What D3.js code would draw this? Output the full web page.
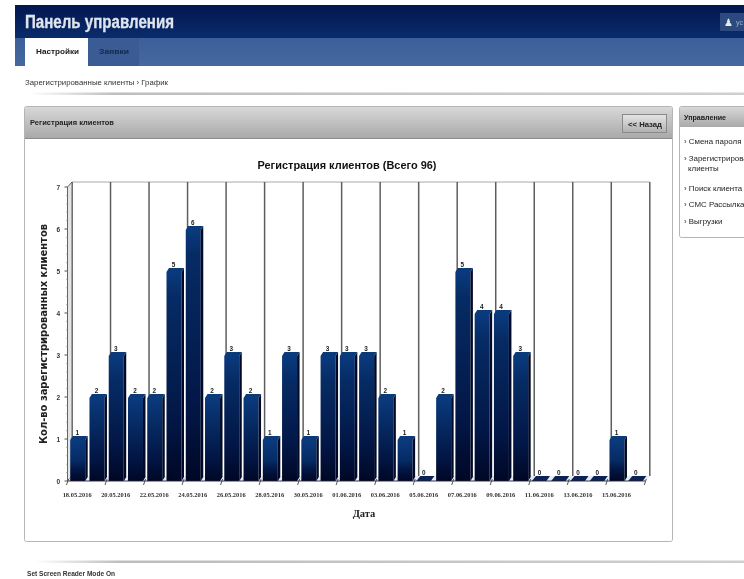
<!DOCTYPE html>
<html><head><meta charset="utf-8">
<script src="https://cdn.jsdelivr.net/npm/d3@7"></script>
<style>
html,body{margin:0;padding:0;background:#fff;overflow:hidden}
svg{display:block;filter:blur(.55px)}
</style></head><body><div id="c"></div>
<script>
const dates=["18.05.2016","19.05.2016","20.05.2016","21.05.2016","22.05.2016","23.05.2016","24.05.2016","25.05.2016","26.05.2016","27.05.2016","28.05.2016","29.05.2016","30.05.2016","31.05.2016","01.06.2016","02.06.2016","03.06.2016","04.06.2016","05.06.2016","06.06.2016","07.06.2016","08.06.2016","09.06.2016","10.06.2016","11.06.2016","12.06.2016","13.06.2016","14.06.2016","15.06.2016","16.06.2016"];
const counts=[1,2,3,2,2,5,6,2,3,2,1,3,1,3,3,3,2,1,0,2,5,4,4,3,0,0,0,0,1,0];
const yTicks=[0,1,2,3,4,5,6,7];
const chartTitle="Регистрация клиентов (Всего 96)";
const yTitle="Кол-во зарегистрированных клиентов";
const xTitle="Дата";
const menuItems=[["› Смена пароля"],["› Зарегистрированные","клиенты"],["› Поиск клиента"],["› СМС Рассылка"],["› Выгрузки"]];

const W=744,H=579;
const svg=d3.select("#c").append("svg").attr("width",W).attr("height",H).attr("viewBox",[0,0,W,H]);
const defs=svg.append("defs");
function grad(id,stops,x2=0,y2=1){
  const g=defs.append("linearGradient").attr("id",id).attr("x1",0).attr("y1",0).attr("x2",x2).attr("y2",y2);
  stops.forEach(s=>g.append("stop").attr("offset",s[0]).attr("stop-color",s[1]));
}
grad("hdr",[[0,"#02164f"],[1,"#0a2c6b"]]);
grad("tabbar",[[0,"#3c5f9a"],[1,"#46689f"]]);
grad("panel",[[0,"#d8d8d8"],[1,"#a9a9a9"]]);
grad("btn",[[0,"#e6e6e6"],[1,"#b0b0b0"]]);
grad("rule",[[0,"#ffffff"],[.12,"#bdbdbd"],[1,"#cfcfcf"]],1,0);
const font="'Liberation Sans',Arial,sans-serif";
const text=(x,y,s,size,o={})=>{
  const t=svg.append("text").attr("x",x).attr("y",y).text(s)
  .attr("font-family",o.family||font).attr("font-size",size).attr("font-weight",o.weight||"normal")
  .attr("fill",o.fill||"#222").attr("text-anchor",o.anchor||"start");
  if(o.len) t.attr("textLength",o.len).attr("lengthAdjust","spacingAndGlyphs");
  return t;
};

// page chrome
svg.append("rect").attr("x",15).attr("y",5).attr("width",W-15).attr("height",33).attr("fill","url(#hdr)");
svg.append("rect").attr("x",15).attr("y",38).attr("width",W-15).attr("height",28).attr("fill","url(#tabbar)");
svg.append("rect").attr("x",88).attr("y",38).attr("width",51).attr("height",28).attr("fill","#3a5b93");
svg.append("rect").attr("x",25).attr("y",38).attr("width",63).attr("height",28).attr("fill","#fff");
text(25,28,"Панель управления",17.5,{weight:"bold",fill:"#dfe5ef",len:149}).attr("stroke","#dfe5ef").attr("stroke-width",.3);
svg.append("rect").attr("x",720).attr("y",13).attr("width",24).attr("height",18).attr("fill","#2d4a80");
text(724,26,"♟",10,{fill:"#e8e8e8"});
text(736,25,"ус",7,{fill:"#9fb0cc"});
text(36,53.5,"Настройки",8,{weight:"bold",fill:"#1b1b1b",len:43});
text(99,53.5,"Заявки",8,{weight:"bold",fill:"#16294d",len:30});
text(25,85,"Зарегистрированные клиенты  ›  График",7.6,{fill:"#333",len:143});
svg.append("rect").attr("x",30).attr("y",92.5).attr("width",W-30).attr("height",2.5).attr("fill","url(#rule)");

// main panel
svg.append("rect").attr("x",24.5).attr("y",106.5).attr("width",648).attr("height",435).attr("rx",2).attr("fill","#fff").attr("stroke","#b5b5b5");
svg.append("rect").attr("x",25).attr("y",107).attr("width",647).attr("height",31).attr("fill","url(#panel)");
svg.append("line").attr("x1",25).attr("x2",672).attr("y1",138.5).attr("y2",138.5).attr("stroke","#8c8c8c");
text(30,125,"Регистрация клиентов",7.4,{weight:"bold",fill:"#222",len:84});
svg.append("rect").attr("x",622.5).attr("y",114.5).attr("width",44).attr("height",18).attr("fill","url(#btn)").attr("stroke","#8a8a8a");
text(645,126.5,"<< Назад",8,{weight:"bold",anchor:"middle",fill:"#222",len:34});

// side panel
svg.append("rect").attr("x",679.5).attr("y",106.5).attr("width",80).attr("height",131).attr("rx",2).attr("fill","#fff").attr("stroke","#b5b5b5");
svg.append("rect").attr("x",680).attr("y",107).attr("width",70).attr("height",20).attr("fill","url(#panel)");
text(684,120,"Управление",7,{weight:"bold",len:42});
[[144,0],[161,1],[191,2],[207,3],[224,4]].forEach(([y,i])=>{
  menuItems[i].forEach((s,k)=>text(i==1&&k==1?688:684,y+k*10,s,7.9,{fill:"#222"}));
});

// chart scales
const dx=4.5,dy=-5;               // 3D depth of the plot
const x=d3.scaleBand().domain(dates).range([67.5,645.3]);
const y=d3.scaleLinear().domain([0,7]).range([481,187]);
const g=svg.append("g");
const x0=x.range()[0],x1=x.range()[1],f=y(0);

// back wall
g.append("line").attr("x1",x0+dx).attr("x2",x1+dx).attr("y1",y(7)+dy).attr("y2",y(7)+dy).attr("stroke","#aaa");
const gx=i=>x0+i*2*x.bandwidth()+dx;
d3.range(0,16).forEach(i=>{
  g.append("line").attr("x1",gx(i)).attr("x2",gx(i)).attr("y1",y(7)+dy).attr("y2",y(0)+dy)
   .attr("stroke","#5e5e5e").attr("stroke-width",1.5);
});
// left wall and y axis
g.append("path").attr("d",`M${x0},${f}V${y(7)}L${x0+dx},${y(7)+dy}V${f+dy}Z`).attr("fill","#e4e4e4").attr("stroke","#555").attr("stroke-width",.9);
yTicks.forEach(t=>{
  g.append("line").attr("x1",x0-3).attr("x2",x0).attr("y1",y(t)).attr("y2",y(t)).attr("stroke","#555");
  g.append("text").attr("x",60).attr("y",y(t)+2.5).attr("text-anchor","end").attr("font-size",6.5).attr("font-weight","bold").attr("font-family",font).attr("fill","#333").text(t);
  if(t<7) d3.range(1,5).forEach(m=>g.append("line").attr("x1",x0-1.5).attr("x2",x0).attr("y1",y(t+m/5)).attr("y2",y(t+m/5)).attr("stroke","#888").attr("stroke-width",.6));
});

// floor
g.append("path").attr("d",`M${x0},${f}L${x0+dx},${f+dy}H${x1+dx}L${x1},${f}Z`).attr("fill","#e6eaf2");

// bars
const bw=15,sx=2.5,sy=-4;
dates.forEach((d,i)=>{
  const id="b"+i;
  const v=counts[i],l=x(d)+2.7,r=l+bw,top=y(v)+1;
  if(v===0){
    g.append("path").attr("d",`M${l-.5},${f}L${l+dx-1},${f+dy}H${r+dx-2}L${r-1},${f}Z`).attr("fill","#0a2255");
  }else{
    const lg=defs.append("linearGradient").attr("id",id).attr("x1",0).attr("y1",0).attr("x2",0).attr("y2",1);
    [[0,"#0a3a7e"],[Math.min(.5,42/(f-top)*.6),"#062b64"],[.72,"#021645"],[1,"#000725"]].forEach(s=>lg.append("stop").attr("offset",s[0]).attr("stop-color",s[1]));
    g.append("rect").attr("x",l).attr("y",top).attr("width",bw).attr("height",f-top).attr("fill",`url(#${id})`);
    g.append("path").attr("d",`M${r},${top}L${r+sx},${top+sy}V${f+sy}L${r},${f}Z`).attr("fill","#000a28");
    g.append("path").attr("d",`M${l},${top}L${l+sx},${top+sy}H${r+sx}L${r},${top}Z`).attr("fill","#0a3a78");
  }
  g.append("text").attr("x",l+bw/2-.5).attr("y",(v===0?f+dy:top+sy)-1.5).attr("text-anchor","middle").attr("font-size",6.4).attr("font-weight","bold").attr("font-family",font).attr("fill","#1a1a1a").text(v);
});

// x axis
g.append("line").attr("x1",x0).attr("x2",x1).attr("y1",f).attr("y2",f).attr("stroke","#223").attr("stroke-width",.9);
d3.range(0,31,2).forEach(i=>{
  const tx=x0+i*x.bandwidth();
  g.append("line").attr("x1",tx+1).attr("x2",tx-1).attr("y1",f-2).attr("y2",f+4).attr("stroke","#444").attr("stroke-width",.9);
});
dates.forEach((d,i)=>{ if(i%2===0)
  g.append("text").attr("x",x(d)+x.bandwidth()/2).attr("y",496.5).attr("text-anchor","middle").attr("font-size",6.6).attr("font-family","'Liberation Serif',serif").attr("font-weight","bold").attr("textLength",29).attr("lengthAdjust","spacingAndGlyphs").attr("fill","#333").text(d);
});

// titles
text(347,169,chartTitle,10.5,{weight:"bold",anchor:"middle",fill:"#111",len:179});
text(364,517,xTitle,10.5,{weight:"bold",anchor:"middle",fill:"#222",family:"'Liberation Serif',serif"});
svg.append("text").attr("transform","translate(47,334) rotate(-90)").attr("text-anchor","middle").attr("font-size",10).attr("font-weight","bold").attr("font-family","'DejaVu Sans',sans-serif").attr("textLength",220).attr("lengthAdjust","spacingAndGlyphs").attr("fill","#222").text(yTitle);

// footer
svg.append("rect").attr("x",35).attr("y",560.5).attr("width",W-35).attr("height",2.5).attr("fill","url(#rule)");
text(27,576,"Set Screen Reader Mode On",6.8,{weight:"bold",fill:"#333",len:88}).attr("text-decoration","underline");
</script></body></html>
